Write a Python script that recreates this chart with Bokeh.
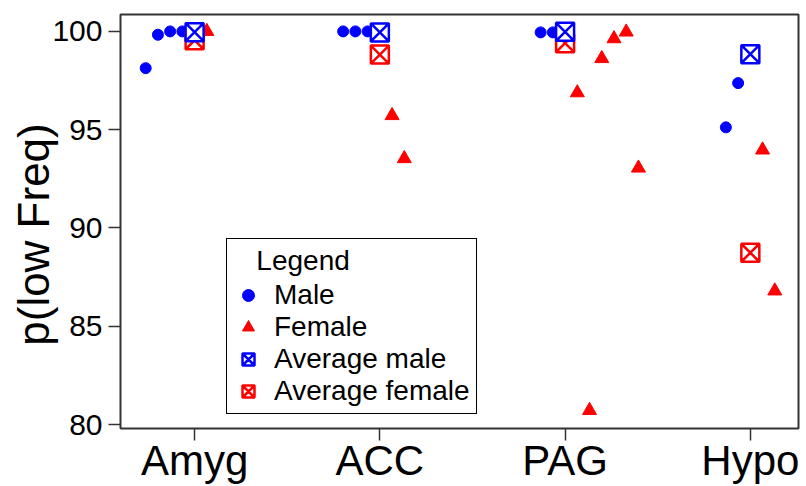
import math

from bokeh.plotting import figure
from bokeh.models import Range1d, FixedTicker, Legend, LegendItem, Label
from bokeh.embed import file_html
from bokeh.resources import INLINE

# Brain regions on the x axis
regions = ["Amyg", "ACC", "PAG", "Hypo"]

# Per-animal p(low Freq) values, in the order they are dodged left/right of each region
male_amyg = [98.13, 99.83, 100.0, 100.0]
male_acc = [100.0, 100.0, 100.0]
male_pag = [99.95, 99.95]
male_hypo = [95.12, 97.37]

female_amyg = [100.0]
female_acc = [95.72, 93.53]
female_pag = [96.88, 80.72, 98.62, 99.63, 99.97, 93.05]
female_hypo = [93.97, 86.80]

# Group averages per region
avg_male = [99.96, 99.95, 99.98, 98.84]
avg_female = [99.55, 98.82, 99.40, 88.74]

y_ticks = [80, 85, 90, 95, 100]

male_groups = [male_amyg, male_acc, male_pag, male_hypo]
female_groups = [female_amyg, female_acc, female_pag, female_hypo]

STEP = 0.066  # horizontal dodge between neighbouring points (category units)
FONT = "Liberation Sans"
BLUE = "#0000FF"
RED = "#FF0000"
AXIS = "#333333"

# males sit to the left of the region centre, females to the right
mx, my = [], []
for i, vals in enumerate(male_groups, start=1):
    n = len(vals)
    for k, v in enumerate(vals):
        mx.append(i - (n - k) * STEP)
        my.append(v)

fx, fy = [], []
for i, vals in enumerate(female_groups, start=1):
    for k, v in enumerate(vals):
        fx.append(i + (k + 1) * STEP)
        fy.append(v)

centres = list(range(1, len(regions) + 1))

p = figure(
    width=806, height=486,
    x_range=Range1d(0.6, 4.26), y_range=Range1d(79.8, 100.86),
    output_backend="svg", toolbar_location=None,
    min_border_left=119, min_border_right=8, min_border_top=14, min_border_bottom=54,
)
p.grid.visible = False
p.outline_line_color = AXIS
p.outline_line_width = 2
p.outline_line_alpha = 1.0
p.background_fill_color = "white"
p.border_fill_color = "white"

r_male = p.scatter(mx, my, marker="circle", size=11, fill_color=BLUE, line_color=BLUE)
r_female = p.scatter(fx, fy, marker="triangle", size=14, fill_color=RED, line_color=RED)
r_avg_f = p.scatter(centres, avg_female, marker="square_x", size=18, fill_color="white",
                    line_color=RED, line_width=2.5)
r_avg_m = p.scatter(centres, avg_male, marker="square_x", size=18, fill_color="white",
                    line_color=BLUE, line_width=2.5)

# x axis: region names at integer positions
p.xaxis.ticker = FixedTicker(ticks=centres)
p.xaxis.major_label_overrides = {c: name for c, name in zip(centres, regions)}
p.xaxis.major_label_text_font = FONT
p.xaxis.major_label_text_font_size = "42px"
p.xaxis.major_label_text_color = "black"
p.xaxis.major_label_standoff = -4
p.xaxis.major_tick_out = 12
p.xaxis.major_tick_in = 0
p.xaxis.minor_tick_line_color = None
p.xaxis.axis_line_color = AXIS
p.xaxis.major_tick_line_color = AXIS
p.xaxis.major_tick_line_width = 1.5

# y axis
p.yaxis.ticker = FixedTicker(ticks=y_ticks)
p.yaxis.major_label_text_font = FONT
p.yaxis.major_label_text_font_size = "30px"
p.yaxis.major_label_text_color = "black"
p.yaxis.major_label_standoff = 6
p.yaxis.major_tick_out = 12
p.yaxis.major_tick_in = 0
p.yaxis.minor_tick_line_color = None
p.yaxis.axis_line_color = AXIS
p.yaxis.major_tick_line_color = AXIS
p.yaxis.major_tick_line_width = 1.5

# y axis title, kept in the left side panel
p.add_layout(Label(
    x=33, y=194, x_units="screen", y_units="screen",
    text="p(low Freq)", angle=math.pi / 2,
    text_font=FONT, text_font_size="44px", text_color="black",
    text_align="center", text_baseline="middle",
), "left")

legend = Legend(
    items=[
        LegendItem(label="Male", renderers=[r_male]),
        LegendItem(label="Female", renderers=[r_female]),
        LegendItem(label="Average male", renderers=[r_avg_m]),
        LegendItem(label="Average female", renderers=[r_avg_f]),
    ],
    location=(106, 14),
    title="\u00a0\u00a0\u00a0Legend",
    title_text_font=FONT,
    title_text_font_size="28px",
    title_text_font_style="normal",
    title_text_color="black",
    title_standoff=2,
    label_text_font=FONT,
    label_text_font_size="28px",
    label_text_color="black",
    label_height=32,
    glyph_height=30,
    glyph_width=30,
    label_standoff=11,
    spacing=0,
    padding=6,
    margin=0,
    border_line_color="black",
    border_line_alpha=1.0,
    border_line_width=1.5,
    background_fill_color="white",
    background_fill_alpha=1.0,
)
p.add_layout(legend)

open("out.html", "w").write(file_html(p, INLINE))
